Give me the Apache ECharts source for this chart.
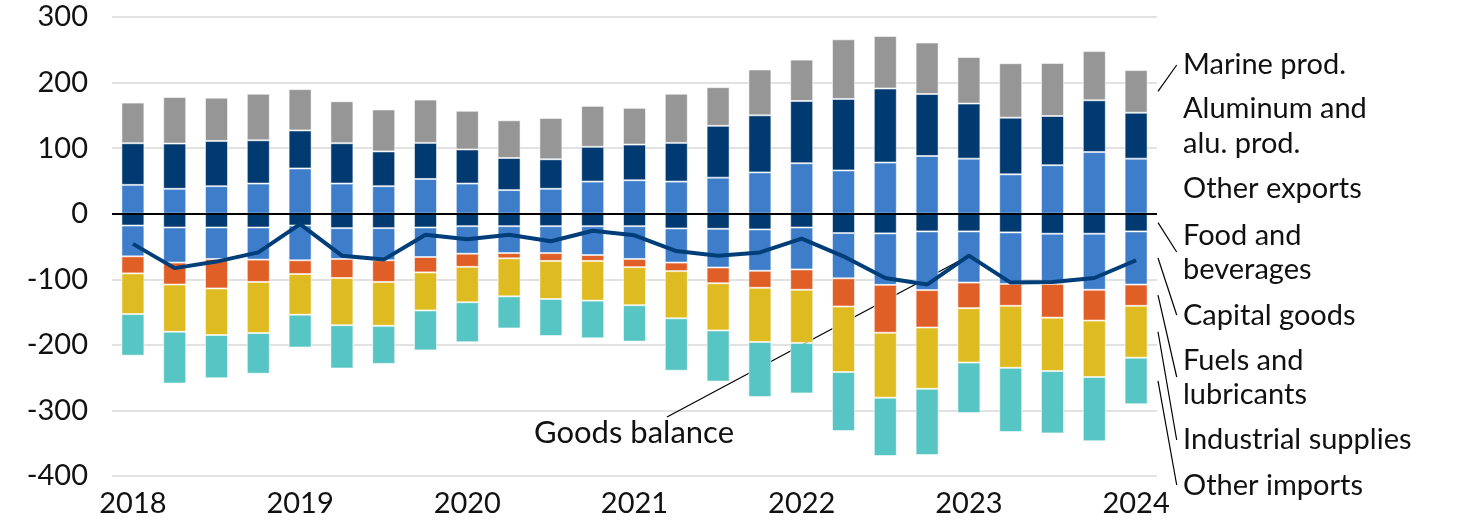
<!DOCTYPE html>
<html><head><meta charset="utf-8">
<script src="https://cdn.jsdelivr.net/npm/echarts@6/dist/echarts.min.js"></script>
<style>html,body{margin:0;padding:0;background:#fff}#c{width:1464px;height:522px}</style>
</head><body><div id="c"></div>
<script>
const quarters = ['2018Q1','2018Q2','2018Q3','2018Q4','2019Q1','2019Q2','2019Q3','2019Q4','2020Q1','2020Q2','2020Q3','2020Q4','2021Q1','2021Q2','2021Q3','2021Q4','2022Q1','2022Q2','2022Q3','2022Q4','2023Q1','2023Q2','2023Q3','2023Q4','2024Q1'];
const yTicks = {min: -400, max: 300, interval: 100};

const otherExports = [44,38,42,46,69,46,42,53,46,36,38,49,51,49,55,63,77,66,78,88,84,60,74,94,84];
const aluminum     = [63.5,69,69,66,58,61.5,53,55,52,49,45,53,54.5,59,79,87,95,109,113,94.5,84,86.5,75,79,70];
const marine       = [62,71,66,71,63,64,64,66,59,57.5,63,62.5,56,75,59,70,63,91,80,78.5,71,83,81,75,65];
const foodBev      = [-18,-21,-21,-21,-18,-22,-22,-21,-19,-19,-19,-19,-19,-22.5,-23,-24,-21,-29.5,-30,-27,-27,-28.5,-30.5,-30.5,-27];
const capitalGoods = [-47,-53.5,-48,-49,-53,-47,-49,-45,-42,-41,-41,-44,-50,-52,-59,-63,-64,-69,-78.5,-89.5,-78,-78.5,-76.5,-85.5,-81];
const fuels        = [-26,-33.5,-45,-34,-21,-29,-33,-23.5,-20,-8,-12,-9,-12.5,-13,-24,-26,-31,-43,-73,-57,-39,-33.5,-51.5,-47,-32.5];
const industrial   = [-62,-72,-71,-78,-62,-72,-67,-58,-54,-58,-58,-60.5,-58,-72,-72,-82.5,-81,-100,-99,-93.5,-83,-94.5,-81.5,-86,-79];
const otherImports = [-63.5,-79,-66,-62,-50,-66,-58,-61,-61,-49,-56.5,-57.5,-55.5,-80,-78,-84,-77,-90,-89,-101,-77,-98,-95,-98,-71];
const goodsBalance = [-46,-83,-73,-59,-16,-64,-70,-32,-39,-32,-42,-26,-33,-57,-64,-59,-38,-65,-98,-108,-64,-105,-104,-98,-71];

const C = {gray:'#969696', navy:'#003A70', blue:'#3D7DCA', orange:'#E05F26', yellow:'#DFBB22', teal:'#57C5C3', line:'#003E7A'};
const FONT = 'Lato';
const chart = echarts.init(document.getElementById('c'));

function bar(name, data, color, extra) {
  return Object.assign({
    name, type:'bar', stack:'all', data, barWidth:23,
    itemStyle:{color, borderColor:'rgba(255,255,255,0.55)', borderWidth:1},
    emphasis:{disabled:true}, animation:false
  }, extra||{});
}

chart.setOption({
  animation:false,
  grid:{left:112, right:307, top:17, bottom:46, containLabel:false},
  xAxis:{type:'category', data:quarters,
    axisLine:{show:false}, axisTick:{show:false},
    axisLabel:{interval:0, margin:13, fontFamily:FONT, fontSize:29, color:'#111',
      formatter:(v)=> v.endsWith('Q1') ? v.slice(0,4) : ''}},
  yAxis:{type:'value', min:yTicks.min, max:yTicks.max, interval:yTicks.interval,
    axisLine:{show:false}, axisTick:{show:false},
    axisLabel:{margin:24, fontFamily:FONT, fontSize:29, color:'#111'},
    splitLine:{lineStyle:{color:'#d9d9d9', width:1.5}}},
  series:[
    bar('Other exports', otherExports, C.blue, {markLine:{silent:true, symbol:'none', label:{show:false},
      lineStyle:{color:'#000', width:2, type:'solid'}, data:[{yAxis:0}], z:10}}),
    bar('Aluminum and alu. prod.', aluminum, C.navy),
    bar('Marine prod.', marine, C.gray),
    bar('Food and beverages', foodBev, C.navy),
    bar('Capital goods', capitalGoods, C.blue),
    bar('Fuels and lubricants', fuels, C.orange),
    bar('Industrial supplies', industrial, C.yellow),
    bar('Other imports', otherImports, C.teal),
    {name:'Goods balance', type:'line', data:goodsBalance, symbol:'none', z:20,
      lineStyle:{color:C.line, width:4}, emphasis:{disabled:true}, animation:false}
  ]
});

// annotations
const last = quarters.length - 1;
const px = (i, v) => chart.convertToPixel({xAxisIndex:0, yAxisIndex:0}, [i, v]);
const rightEdge = 1157;
const xStart = rightEdge + 1, xEnd = 1176.7, textX = 1183;
function mid(arrs, k) {
  let base = 0; for (let j = 0; j < k; j++) base += arrs[j][last];
  return base + arrs[k][last] / 2;
}
const pos = [otherExports, aluminum, marine];
const neg = [foodBev, capitalGoods, fuels, industrial, otherImports];
const leaders = [
  {v: mid(pos,2), ty: 65},
  {v: mid(neg,0), ty: 252},
  {v: mid(neg,1), ty: 315},
  {v: mid(neg,2), ty: 377},
  {v: mid(neg,3), ty: 440},
  {v: mid(neg,4), ty: 485}
];
const labels = [
  {t:'Marine prod.', y:65},
  {t:'Aluminum and', y:109},
  {t:'alu. prod.', y:144},
  {t:'Other exports', y:189},
  {t:'Food and', y:236},
  {t:'beverages', y:270},
  {t:'Capital goods', y:316},
  {t:'Fuels and', y:361},
  {t:'lubricants', y:395},
  {t:'Industrial supplies', y:440},
  {t:'Other imports', y:486}
];
const g = [];
leaders.forEach(l => {
  const y0 = px(last, l.v)[1];
  g.push({type:'line', silent:true, shape:{x1:xStart, y1:y0, x2:xEnd, y2:l.ty}, style:{stroke:'#000', lineWidth:1.2}});
});
labels.forEach(l => g.push({type:'text', silent:true, x:textX, y:l.y,
  style:{text:l.t, font:'29px '+FONT, fill:'#111', textAlign:'left', textVerticalAlign:'middle'}}));
const gbIdx = 20;
const gbPt = px(gbIdx, goodsBalance[gbIdx]);
g.push({type:'line', silent:true, shape:{x1:667, y1:417, x2:gbPt[0], y2:gbPt[1]}, style:{stroke:'#000', lineWidth:1.2}});
g.push({type:'text', silent:true, x:634, y:433, style:{text:'Goods balance', font:'31px '+FONT, fill:'#111', textAlign:'center', textVerticalAlign:'middle'}});
chart.setOption({graphic:g});
</script></body></html>
